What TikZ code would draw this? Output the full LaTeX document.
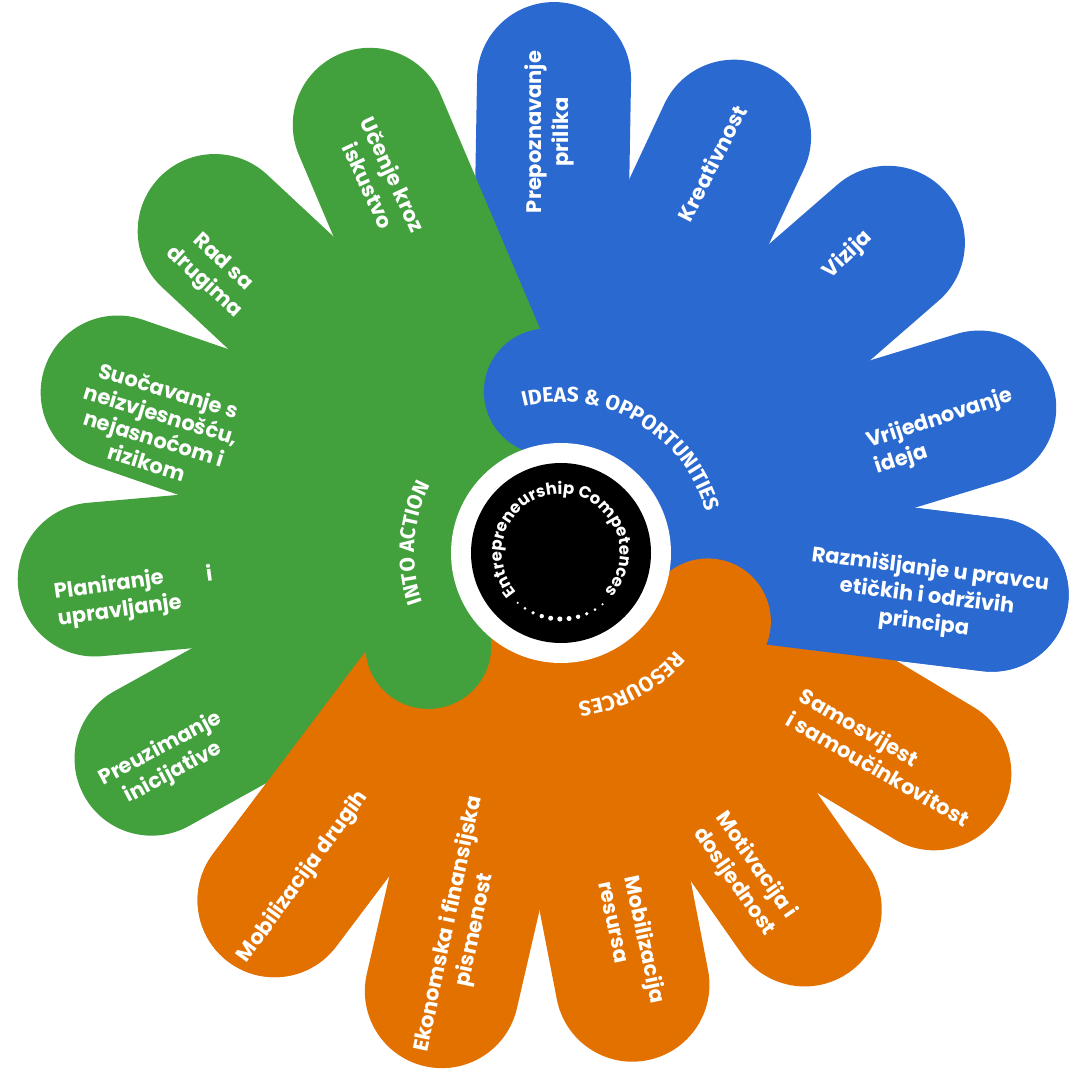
\documentclass[tikz,border=0pt]{standalone}
\usepackage{fontspec}
\setmainfont{Poppins}
\newfontfamily\titlefont{Fira Sans}
\usetikzlibrary{decorations.text}
\definecolor{cblue}{RGB}{42,105,208}
\definecolor{corange}{RGB}{227,113,0}
\definecolor{cgreen}{RGB}{66,160,61}
% petal: colour, angle, length (centre of flower at 546,532)
\newcommand\drawpetal[3]{\fill[#1, shift={(546,532)}, rotate=#2] (0,-77) -- (#3-77,-77) arc[start angle=-90,end angle=90,radius=77] -- (0,77) -- cycle;}
\begin{document}
\begin{tikzpicture}[x=1pt,y=1pt,
  ptext/.style={text=white, font=\bfseries\fontsize{21}{27}\selectfont, align=center, inner sep=0pt}]
\useasboundingbox (0,0) rectangle (1073,1072);
\fill[white] (0,0) rectangle (1073,1072);
% petals
\foreach \a/\r in {89/538,65/522,41/530,17/530,-7/526} {\drawpetal{cblue}{\a}{\r}}
\foreach \a/\r in {-31/530,-55/528,-79/530,-103/540,-127/528} {\drawpetal{corange}{\a}{\r}}
\foreach \a/\r in {-151/528,-175/530,161/530,137/530,113/528} {\drawpetal{cgreen}{\a}{\r}}
\drawpetal{cblue}{-7}{526}
\drawpetal{corange}{-127}{528}
% hub sectors
\fill[cblue, shift={(561,519)}] (0,0) -- (95:215) arc[start angle=95, end angle=-25, radius=215] -- cycle;
\fill[corange, shift={(561,519)}] (0,0) -- (-25:215) arc[start angle=-25, end angle=-145, radius=215] -- cycle;
\fill[cgreen, shift={(561,519)}] (0,0) -- (215:215) arc[start angle=215, end angle=95, radius=215] -- cycle;
% hub caps
\fill[cblue, shift={(561,519)}] (95:162) circle[radius=63];
\fill[corange, shift={(561,519)}] (-25:162) circle[radius=63];
\fill[cgreen, shift={(561,519)}] (215:162) circle[radius=63];
% centre
\fill[white] (561,519) circle[radius=110];
\fill[black] (561,519) circle[radius=90];
% area titles
\path[decorate, decoration={text along path, text align=center,
  text={|\titlefont\bfseries\fontsize{21}{21}\selectfont\color{white}|IDEAS {\&} OPPORTUNITIES}}]
  (561,519) ++(112:151) arc[start angle=112, end angle=8, radius=151];
\path[decorate, decoration={text along path, text align=center,
  text={|\titlefont\bfseries\fontsize{21}{21}\selectfont\color{white}|INTO ACTION}}]
  (561,519) ++(206:147) arc[start angle=206, end angle=146, radius=147];
\path[decorate, decoration={text along path, text align=center,
  text={|\titlefont\bfseries\fontsize{21}{21}\selectfont\color{white}|RESOURCES}}]
  (561,519) ++(-32:150) arc[start angle=-32, end angle=-92, radius=150];
% centre text
\path[decorate, decoration={text along path, text align=center,
  text={|\bfseries\fontsize{16.5}{16.5}\selectfont\color{white}|Entrepreneurship Competences}}]
  (561,519) ++(225:59) arc[start angle=225, end angle=-45, radius=59];
\foreach \a/\s in {229/1.2,237/1.5,245/1.8,253/2.2,261/2.5,269/2.6,277/2.5,285/2.2,293/1.8,301/1.5,309/1.2}
  {\fill[white, shift={(561,519)}] (\a:66) circle[radius=\s];}
% petal labels
\node[ptext, rotate=90] (p1) at (549,940) {Prepoznavanje\\prilika};
\node[ptext, rotate=63] (p2) at (712,909) {Kreativnost};
\node[ptext, rotate=44] (p3) at (848,817) {Vizija};
\node[ptext, rotate=18, align=left] (p4) at (944,640) {Vrijednovanje\\ideja};
\node[ptext, rotate=-7] (p5) at (927,475) {Razmišljanje u pravcu\\etičkih i održivih\\principa};
\node[ptext, rotate=-30, align=left] (p6) at (885,315) {Samosvijest\\i samoučinkovitost};
\node[ptext, rotate=-55, align=left] (p7) at (745,198) {Motivacija i\\dosljednost};
\node[ptext, rotate=-78, align=left] (p8) at (633,130) {Mobilizacija\\resursa};
\node[ptext, rotate=78] (p9) at (462,145) {Ekonomska i finansijska\\pismenost};
\node[ptext, rotate=54] (p10) at (303,195) {Mobilizacija drugih};
\node[ptext, rotate=28] (p11) at (167,311) {Preuzimanje\\inicijative};
\node[ptext, rotate=8, align=left] (p12) at (118,474) {Planiranje\\upravljanje};
\node[ptext, rotate=8] (p12i) at (209,499) {i};
\node[ptext, rotate=-17, font=\bfseries\fontsize{21}{25}\selectfont] (p13) at (158,646) {Suočavanje s\\neizvjesnošću,\\nejasnoćom i\\rizikom};
\node[ptext, rotate=-43] (p14) at (213,799) {Rad sa\\drugima};
\node[ptext, rotate=-65] (p15) at (381,892) {Učenje kroz\\iskustvo};
\end{tikzpicture}
\end{document}
